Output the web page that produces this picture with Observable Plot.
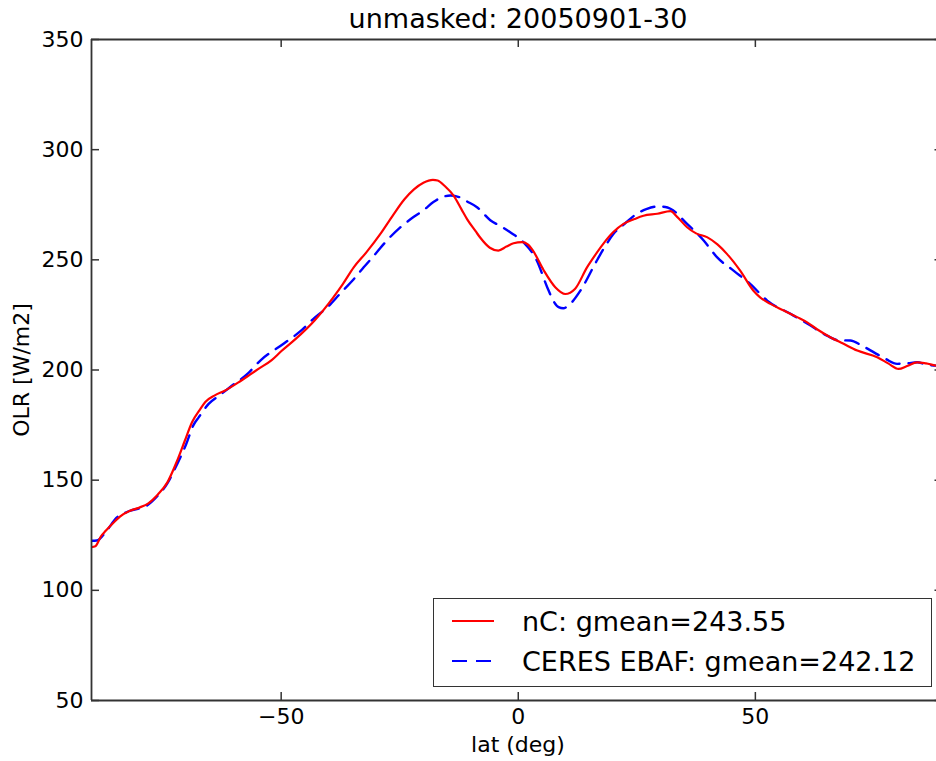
<!DOCTYPE html>
<html><head><meta charset="utf-8">
<script src="https://cdn.jsdelivr.net/npm/d3@7"></script>
<script src="https://cdn.jsdelivr.net/npm/@observablehq/plot@0.6"></script>
<style>
html,body{margin:0;padding:0;background:#fff;overflow:hidden}
#wrap{position:relative;width:936px;height:761px;font-family:"DejaVu Sans",sans-serif;color:#000}
.t{position:absolute;white-space:nowrap;line-height:1}
#legend{position:absolute;left:433px;top:598px;width:497px;height:87px;border:1.5px solid #333;background:#fff}
#legend .row{position:absolute;left:0;height:30px;display:flex;align-items:center}
#legend svg{margin-left:18px;margin-right:28px}
#legend span{font-size:27px;line-height:1}
</style></head><body><div id="wrap"></div>
<script>
const title = "unmasked: 20050901-30";
const xLabel = "lat (deg)";
const yLabel = "OLR [W/m2]";
const seriesNames = ["nC: gmean=243.55", "CERES EBAF: gmean=242.12"];
const seriesColors = ["#ff0000", "#0000ff"];

const latNC = [-90, -89.2, -88, -87, -85, -84, -82, -80, -78, -76, -74, -72, -70.3, -68.8, -67, -66, -64, -62, -59, -56.5, -54.8, -52, -50, -47, -43, -39, -37, -34.7, -32, -29, -26.5, -24, -22, -20, -18, -17, -15.5, -13.6, -12, -10.8, -9, -8, -6, -4.2, -2.5, -1, 0.8, 2, 3, 5.3, 7.8, 9.9, 12, 14.5, 16, 18, 20, 22.2, 24.5, 26.4, 29.3, 32.1, 33.5, 35.6, 37.5, 39.8, 42, 44, 46.8, 49.6, 51, 53.2, 56, 58.8, 61, 63, 65.8, 68.5, 71.5, 75.7, 78, 80.2, 82, 84.1, 86, 88.2, 90];
const olrNC = [119.6, 120, 124.5, 127, 131.5, 133.5, 136, 137.5, 139.5, 143.5, 149, 158.5, 168, 176.3, 182.5, 185.5, 188.5, 190.5, 194.4, 198, 200.5, 204.5, 208.5, 214, 222.4, 233, 239, 246.6, 253.5, 262, 270, 277.5, 282, 285, 286.3, 286, 283.5, 279, 273, 268.5, 263, 260, 255.5, 254.2, 256, 257.5, 258, 257, 254.5, 245.5, 237.6, 234.5, 236.9, 246.6, 251.5, 257.5, 262.5, 266.3, 268.5, 270, 270.9, 272.1, 269.5, 264.8, 262, 260.3, 257, 252.7, 245.1, 236, 233, 230, 227, 224, 221.5, 218.5, 214.9, 212, 208.8, 205.8, 203, 200.5, 201.8, 203.5, 203, 202, 201.8];

const latCERES = [-90, -88.9, -87, -84.7, -82, -78.3, -76, -74, -72, -70, -68.5, -67.4, -65.3, -63, -60.8, -57, -54.4, -49.5, -46, -43.2, -40, -37.6, -35, -32.6, -30, -27.7, -25, -22.1, -20, -17.9, -16, -14.3, -12.5, -10.8, -8.7, -5.9, -3.5, -1.7, 1.1, 3.9, 6.1, 7.5, 8.5, 9.5, 10.6, 13.1, 16.2, 18, 20.1, 22.5, 25, 27, 29.3, 31, 32.1, 35.6, 39.1, 41.9, 45.4, 48.9, 52.5, 57.4, 61, 65.1, 67.5, 70, 72.5, 75, 77.5, 79.9, 82, 84.1, 86, 88.2, 90];
const olrCERES = [122.5, 122.6, 126.5, 133, 136, 138.5, 143, 148.5, 157, 166.5, 175, 178.5, 184.6, 188.5, 192.2, 198.5, 204.3, 211.9, 217.5, 223.2, 229, 234.6, 240.5, 246.6, 253, 258.8, 264.5, 269.4, 272.5, 276.2, 278.5, 279.2, 278.5, 276.5, 273.9, 268, 265, 262.5, 258, 249.7, 237.6, 231, 228.5, 228, 229.3, 236, 248.2, 255, 261.8, 266.5, 270.9, 273, 274.2, 274, 273.2, 266.3, 258.8, 251.2, 245.1, 239.1, 231.5, 225.5, 221, 215.6, 213.5, 213.4, 211, 208, 205, 202.8, 203, 203.5, 202.5, 202, 202];

const xTicks = [-50, 0, 50];
const yTicks = [50, 100, 150, 200, 250, 300, 350];
const xDomain = [-90, 88.2];
const yDomain = [50, 350];

const W = 936, H = 761, mT = 39, mB = 61, mL = 91, mR = 0;
const plotH = H - mT - mB, plotW = W - mL - mR;
const ink = "#333";
const fmt = d => d < 0 ? "\u2212" + Math.abs(d) : String(d);

const nc = latNC.map((x, i) => ({x, y: olrNC[i]}));
const ceres = latCERES.map((x, i) => ({x, y: olrCERES[i]}));

const chart = Plot.plot({
  width: W, height: H,
  marginTop: mT, marginBottom: mB, marginLeft: mL, marginRight: mR,
  style: {fontFamily: "DejaVu Sans, sans-serif", color: "#000", background: "#fff", overflow: "visible"},
  x: {domain: xDomain},
  y: {domain: yDomain},
  marks: [
    Plot.line(ceres, {x: "x", y: "y", stroke: seriesColors[1], strokeWidth: 2.4, strokeDasharray: "14,9", curve: "monotone-x", clip: true}),
    Plot.line(nc, {x: "x", y: "y", stroke: seriesColors[0], strokeWidth: 2.2, curve: "monotone-x", clip: true}),
    // inward ticks
    Plot.tickX(xTicks, {x: d => d, insetTop: plotH - 8, stroke: ink, strokeWidth: 1.5}),
    Plot.tickX(xTicks, {x: d => d, insetBottom: plotH - 8, stroke: ink, strokeWidth: 1.5}),
    Plot.tickY(yTicks, {y: d => d, insetRight: plotW - 8, stroke: ink, strokeWidth: 1.5}),
    Plot.tickY(yTicks, {y: d => d, insetLeft: plotW - 1.5, stroke: ink, strokeWidth: 1.5}),
    // spines
    Plot.ruleX([xDomain[0]], {stroke: ink, strokeWidth: 1.8}),
    Plot.ruleY([yDomain[0]], {stroke: ink, strokeWidth: 1.8}),
    Plot.ruleY([yDomain[1]], {stroke: ink, strokeWidth: 1.8}),
    Plot.axisX(xTicks, {tickSize: 0, tickPadding: 8, fontSize: 22, tickFormat: fmt, label: null, fill: "#000"}),
    Plot.axisY(yTicks, {tickSize: 0, tickPadding: 8, fontSize: 22, tickFormat: fmt, label: null, fill: "#000"})
  ]
});

const wrap = document.getElementById("wrap");
wrap.appendChild(chart);

function addText(txt, cx, cy, size, rot) {
  const d = document.createElement("div");
  d.className = "t";
  d.textContent = txt;
  d.style.fontSize = size + "px";
  d.style.left = cx + "px";
  d.style.top = cy + "px";
  d.style.transform = "translate(-50%,-50%)" + (rot ? " rotate(" + rot + "deg)" : "");
  wrap.appendChild(d);
}
addText(title, 518, 18, 27);
addText(xLabel, 518, 745, 22);
addText(yLabel, 22, 370, 22, -90);

// legend
const leg = document.createElement("div");
leg.id = "legend";
const rowsY = [7, 47];
seriesNames.forEach((name, i) => {
  const row = document.createElement("div");
  row.className = "row";
  row.style.top = rowsY[i] + "px";
  const dash = i === 1 ? ' stroke-dasharray="15,9"' : '';
  row.innerHTML = '<svg width="42" height="10"><line x1="0" y1="5" x2="42" y2="5" stroke="' + seriesColors[i] + '" stroke-width="2.2"' + dash + '/></svg><span></span>';
  row.querySelector("span").textContent = name;
  leg.appendChild(row);
});
wrap.appendChild(leg);
</script>
</body></html>
